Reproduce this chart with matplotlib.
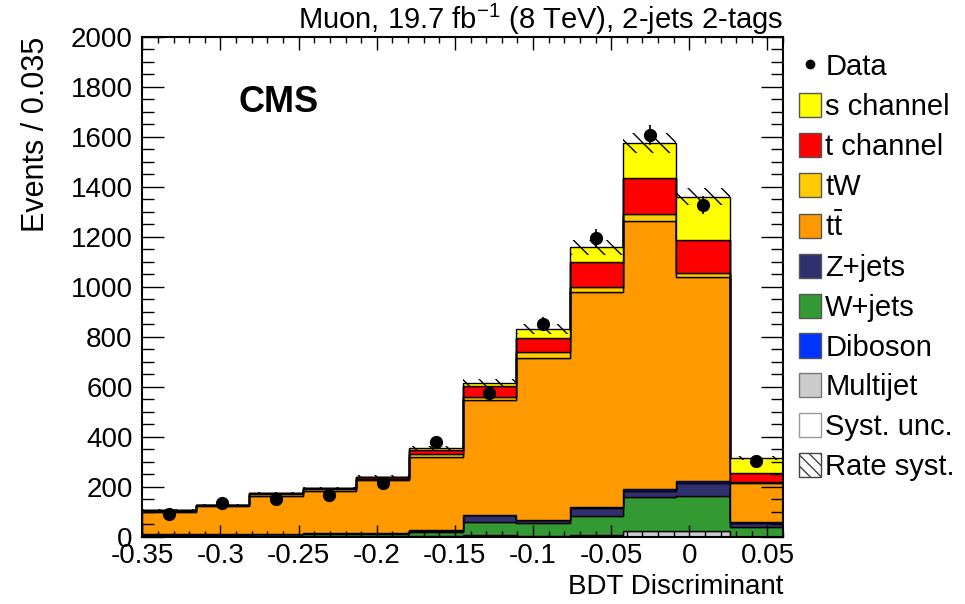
import numpy as np
import matplotlib
matplotlib.use("Agg")
import matplotlib.pyplot as plt
from matplotlib.patches import Patch
from matplotlib.lines import Line2D
from matplotlib.ticker import MultipleLocator

plt.rcParams['font.family'] = ['Liberation Sans', 'DejaVu Sans']
plt.rcParams['mathtext.fontset'] = 'custom'
plt.rcParams['mathtext.rm'] = 'Liberation Sans'
plt.rcParams['mathtext.it'] = 'Liberation Sans:italic'
plt.rcParams['hatch.linewidth'] = 1.0

# binning of the BDT discriminant
x_lo, x_hi, n_bins = -0.35, 0.06, 12

# expected events per bin
multijet = [1, 1, 1, 1, 1, 2, 8, 2, 6, 25, 25, 1]
wjets = [8, 8, 9, 10, 10, 18, 50, 54, 79, 134, 140, 38]
zjets = [2, 2, 2, 3, 3, 5, 28, 12, 32, 26, 50, 18]
diboson = [0, 0, 0, 0, 0, 1, 2, 1, 2, 6, 9, 1]
ttbar = [89, 111, 152, 171, 212, 294, 460, 647, 861, 1073, 816, 158]
tw = [4, 4, 6, 5, 6, 10, 12, 24, 20, 28, 16, 4]
tchan = [3, 2, 4, 4, 6, 16, 44, 56, 100, 144, 132, 36]
schan = [1, 1, 2, 2, 2, 8, 12, 36, 58, 140, 172, 60]

# rate systematic (half width of the hatched band)
rate_syst = [3, 3, 4, 5, 6, 9, 15, 21, 29, 39, 34, 8]

# observed data
data = [92, 136, 152, 168, 216, 380, 576, 852, 1196, 1608, 1328, 304]
data_err = [10, 12, 12, 13, 15, 19, 24, 29, 35, 40, 36, 17]

xtick_vals = [-0.35, -0.3, -0.25, -0.2, -0.15, -0.1, -0.05, 0, 0.05]
xtick_labels = ['-0.35', '-0.3', '-0.25', '-0.2', '-0.15', '-0.1', '-0.05', '0', '0.05']
ytick_vals = [0, 200, 400, 600, 800, 1000, 1200, 1400, 1600, 1800, 2000]

edges = np.linspace(x_lo, x_hi, n_bins + 1)
centers = 0.5 * (edges[:-1] + edges[1:])

fig = plt.figure(figsize=(9.65, 6.04), dpi=100)
ax = fig.add_axes([0.1475, 0.111, 0.664, 0.828])

# stack, bottom to top
stack = [
    (multijet, '#cccccc'),
    (wjets, '#339933'),
    (zjets, '#30306e'),
    (diboson, '#0033ff'),
    (ttbar, '#ff9900'),
    (tw, '#ffcc00'),
    (tchan, '#ff0000'),
    (schan, '#ffff00'),
]
base = np.zeros(n_bins)
for vals, col in stack:
    top = base + np.array(vals)
    ax.stairs(top, edges, baseline=base, fill=True, facecolor=col,
              edgecolor='black', linewidth=1.0)
    base = top

# rate systematic band
rs = np.array(rate_syst)
ax.stairs(base + rs, edges, baseline=base - rs, fill=True, facecolor='none',
          edgecolor='black', hatch='\\\\', linewidth=0)

ax.errorbar(centers, data, yerr=data_err, fmt='o', color='black', ms=8.5,
            elinewidth=1.2, capsize=0, zorder=5)

ax.set_xlim(x_lo, x_hi)
ax.set_ylim(0, 2000)
ax.set_xticks(xtick_vals)
ax.set_xticklabels(xtick_labels)
ax.set_yticks(ytick_vals)
ax.xaxis.set_minor_locator(MultipleLocator(0.01))
ax.yaxis.set_minor_locator(MultipleLocator(50))
ax.tick_params(axis='both', which='both', direction='in', top=True, right=True,
               width=1.0, labelsize=20)
ax.tick_params(axis='x', which='major', length=9, pad=4)
ax.tick_params(axis='x', which='minor', length=4.5)
ax.tick_params(axis='y', which='major', length=16, pad=7)
ax.tick_params(axis='y', which='minor', length=8.4)
for sp in ax.spines.values():
    sp.set_linewidth(1.5)

ax.set_xlabel('BDT Discriminant', loc='right', fontsize=20, labelpad=4)
ax.set_ylabel('Events / 0.035', loc='top', fontsize=22, labelpad=14)
ax.set_title(r'Muon, 19.7 fb$^{-1}$ (8 TeV), 2-jets 2-tags', loc='right',
             fontsize=21, pad=6)
ax.text(0.15, 0.868, 'CMS', transform=ax.transAxes, fontsize=26,
        fontweight='bold', ha='left', va='center')

handles = [
    Line2D([], [], marker='o', color='black', ls='none', ms=6),
    Patch(facecolor='#ffff00', edgecolor='#555555'),
    Patch(facecolor='#ff0000', edgecolor='#555555'),
    Patch(facecolor='#ffcc00', edgecolor='#555555'),
    Patch(facecolor='#ff9900', edgecolor='#555555'),
    Patch(facecolor='#30306e', edgecolor='#555555'),
    Patch(facecolor='#339933', edgecolor='#555555'),
    Patch(facecolor='#0033ff', edgecolor='#555555'),
    Patch(facecolor='#cccccc', edgecolor='#777777'),
    Patch(facecolor='white', edgecolor='#999999'),
    Patch(facecolor='white', edgecolor='#444444', hatch='\\\\\\'),
]
labels = ['Data', 's channel', 't channel', 'tW', r'$\mathrm{t\bar{t}}$',
          'Z+jets', 'W+jets', 'Diboson', 'Multijet', 'Syst. unc.', 'Rate syst.']
fig.legend(handles, labels, loc='upper left', bbox_to_anchor=(0.828, 0.912),
           bbox_transform=fig.transFigure, frameon=False, fontsize=21,
           handlelength=0.75, handleheight=0.9, handletextpad=0.15,
           labelspacing=0.4, borderpad=0, borderaxespad=0)

fig.savefig('out.png', dpi=100)
